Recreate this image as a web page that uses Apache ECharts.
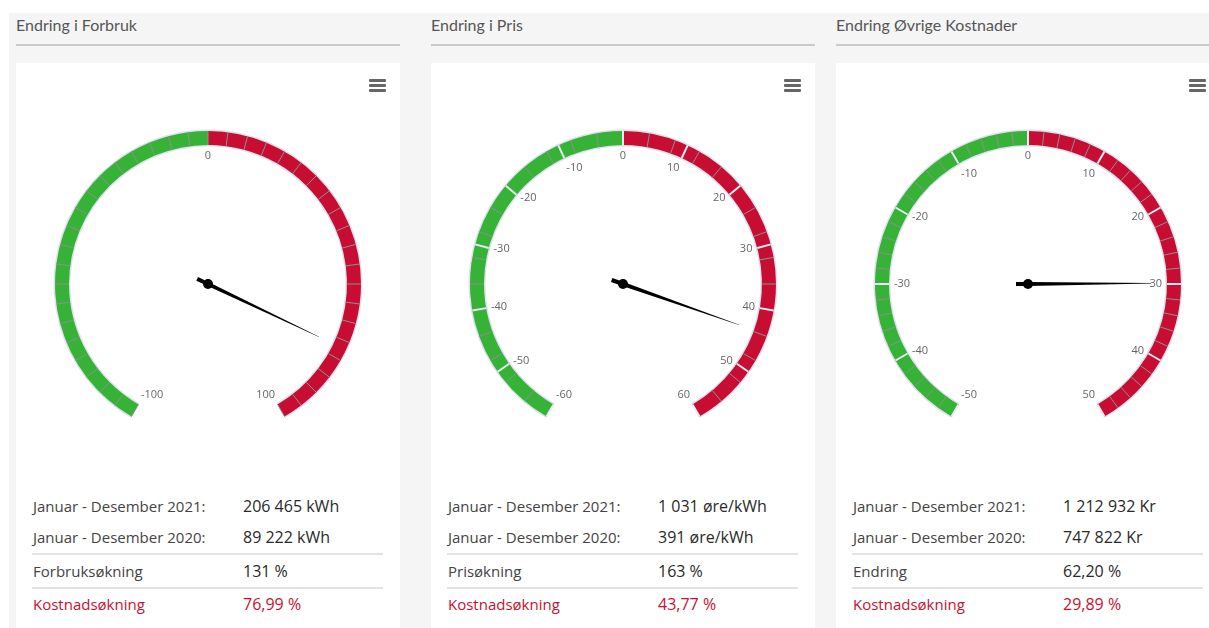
<!DOCTYPE html>
<html>
<head>
<meta charset="utf-8">
<script src="https://cdn.jsdelivr.net/npm/echarts@6/dist/echarts.min.js"></script>
<style>
  body { margin: 0; width: 1209px; height: 628px; overflow: hidden; background: #fff; font-family: "Open Sans", sans-serif; }
  .bg { position: absolute; left: 9px; top: 13px; right: 0; bottom: 0; background: #f5f5f5; }
  .col { position: absolute; top: 13px; width: 384px; height: 615px; }
  .title { position: absolute; left: 0; top: 2px; font-family: Lato, sans-serif; font-size: 16px; color: #555; }
  .rule { position: absolute; left: 0; top: 31px; width: 100%; height: 2px; background: #cacaca; }
  .card { position: absolute; left: 0; top: 50px; width: 100%; height: 580px; background: #fff; }
  .chart { position: absolute; left: 0; top: 0; width: 384px; height: 417px; }
  .menu { position: absolute; left: 353px; top: 16px; width: 17px; }
  .menu span { display: block; height: 3px; background: #666; margin-bottom: 2px; border-radius: 1px; }
  .row { position: absolute; left: 17px; width: 351px; font-size: 15px; line-height: 20px; color: #444; }
  .row .v { position: absolute; left: 210px; top: 0; font-size: 16px; line-height: 20px; color: #2a2a2a; }
  .row.red, .row.red .v { color: #c8102e; }
  .sep { position: absolute; left: 16px; width: 351px; height: 2px; background: #e3e3e3; }
</style>
</head>
<body>
<div class="bg"></div>
<div id="root"></div>
<script>
// gauges
var gaugeTitles = ["Endring i Forbruk", "Endring i Pris", "Endring Øvrige Kostnader"];
var gaugeMin = [-100, -60, -50];
var gaugeMax = [100, 60, 50];
var majorStep = [100, 10, 10];
var minorStep = [5, 4, 2];
var needleValues = [76.99, 43.77, 29.89];

// tabell under hver gauge
var rowLabels = [
  ["Januar - Desember 2021:", "Januar - Desember 2020:", "Forbruksøkning", "Kostnadsøkning"],
  ["Januar - Desember 2021:", "Januar - Desember 2020:", "Prisøkning", "Kostnadsøkning"],
  ["Januar - Desember 2021:", "Januar - Desember 2020:", "Endring", "Kostnadsøkning"]
];
var rowValues = [
  ["206 465 kWh", "89 222 kWh", "131 %", "76,99 %"],
  ["1 031 øre/kWh", "391 øre/kWh", "163 %", "43,77 %"],
  ["1 212 932 Kr", "747 822 Kr", "62,20 %", "29,89 %"]
];

var colLeft = [16, 431, 836];
var rowTop = [433, 464, 498, 531];
var sepTop = [490, 524];

var GREEN = "#36b336";
var RED = "#c80d33";
var needlePath = "path://M4.5 0 L5.5 0 L10 123 L10 135 L0 135 L0 123 Z";

var root = document.getElementById("root");

gaugeTitles.forEach(function (title, i) {
  var col = document.createElement("div");
  col.className = "col";
  col.style.left = colLeft[i] + "px";
  var html = '<div class="title">' + title + '</div><div class="rule"></div>' +
    '<div class="card"><div class="chart" id="g' + i + '"></div>' +
    '<div class="menu"><span></span><span></span><span></span></div>';
  rowLabels[i].forEach(function (lbl, r) {
    html += '<div class="row' + (r === 3 ? " red" : "") + '" style="top:' + rowTop[r] + 'px">' +
      lbl + '<span class="v">' + rowValues[i][r] + '</span></div>';
  });
  sepTop.forEach(function (t) {
    html += '<div class="sep" style="top:' + t + 'px"></div>';
  });
  html += "</div>";
  col.innerHTML = html;
  root.appendChild(col);

  var chart = echarts.init(document.getElementById("g" + i));
  var min = gaugeMin[i], max = gaugeMax[i];
  var base = {
    type: "gauge",
    center: ["50%", 221],
    radius: 153,
    startAngle: 240,
    endAngle: -60,
    min: min,
    max: max,
    pointer: { show: false },
    anchor: { show: false },
    progress: { show: false },
    axisTick: { show: false },
    axisLabel: { show: false },
    title: { show: false },
    detail: { show: false },
    animation: false
  };
  chart.setOption({
    series: [
      // lys kant rundt fargebåndet
      Object.assign({}, base, {
        radius: 154.5,
        splitNumber: 1,
        axisLine: { lineStyle: { width: 17, color: [[1, "#dde2ee"]] } },
        splitLine: { show: false },
        data: []
      }),
      // grønt/rødt bånd med små streker
      Object.assign({}, base, {
        splitNumber: (max - min) / minorStep[i],
        axisLine: { lineStyle: { width: 14, color: [[0.5, GREEN], [1, RED]] } },
        splitLine: { show: true, length: 14, distance: -14, lineStyle: { color: "#8f8f8f", width: 1 } },
        data: []
      }),
      // hovedstreker, tall og viser
      Object.assign({}, base, {
        splitNumber: (max - min) / majorStep[i],
        axisLine: { show: false, lineStyle: { width: 14 } },
        splitLine: {
          show: majorStep[i] < 100, length: 14, distance: -14,
          lineStyle: { color: "#e8ecf4", width: 2 }
        },
        axisLabel: { show: true, distance: 19, color: "#666", fontSize: 11, fontFamily: "Open Sans" },
        pointer: {
          show: true,
          icon: needlePath,
          length: 135,
          width: 4,
          offsetCenter: [0, 12],
          itemStyle: { color: "#000" }
        },
        anchor: { show: true, size: 10, showAbove: true, itemStyle: { color: "#000" } },
        data: [{ value: needleValues[i] }]
      })
    ]
  });
});
</script>
</body>
</html>
